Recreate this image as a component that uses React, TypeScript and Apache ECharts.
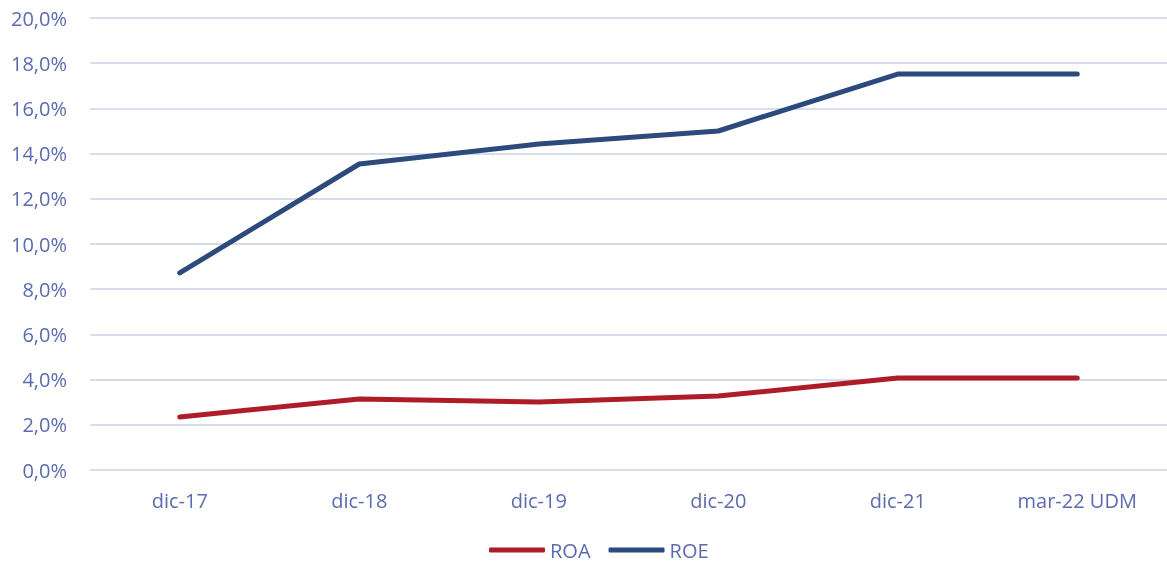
import React, { useEffect, useRef } from "react";
import * as echarts from "echarts";

const categories = ["dic-17", "dic-18", "dic-19", "dic-20", "dic-21", "mar-22 UDM"];
const roa = [2.35, 3.14, 3.01, 3.27, 4.07, 4.07];
const roe = [8.72, 13.54, 14.42, 15.0, 17.52, 17.52];

const textColor = "#5B6BB0";
const gridColor = "#D9DCEC";
const font = "'Open Sans', 'Noto Sans', sans-serif";

export default function App() {
  const ref = useRef<HTMLDivElement>(null);

  useEffect(() => {
    if (!ref.current) return;
    const chart = echarts.init(ref.current, undefined, { renderer: "svg" });
    chart.setOption({
      animation: false,
      textStyle: { fontFamily: font },
      grid: { left: 90, right: -3, top: 18, bottom: 94, containLabel: false },
      legend: {
        bottom: 4,
        padding: 0,
        left: 489,
        itemWidth: 56,
        itemHeight: 5,
        itemGap: 18,
        itemStyle: { borderWidth: 0 },
        textStyle: { color: textColor, fontSize: 20, fontFamily: font, padding: 0 },
        data: [
          { name: "ROA", icon: "roundRect" },
          { name: "ROE", icon: "roundRect" },
        ],
      },
      xAxis: {
        type: "category",
        data: categories,
        boundaryGap: true,
        axisLine: { show: false },
        axisTick: { show: false },
        axisLabel: { color: textColor, fontSize: 20, margin: 20, fontFamily: font },
      },
      yAxis: {
        type: "value",
        min: 0,
        max: 20,
        interval: 2,
        axisLine: { show: false },
        axisTick: { show: false },
        splitLine: { lineStyle: { color: gridColor, width: 2 } },
        axisLabel: {
          color: textColor,
          fontSize: 20,
          margin: 23,
          fontFamily: font,
          formatter: (v: number) => v.toFixed(1).replace(".", ",") + "%",
        },
      },
      series: [
        {
          name: "ROA",
          type: "line",
          data: roa,
          showSymbol: false,
          symbol: "none",
          color: "#AE1C28",
          lineStyle: { width: 5, color: "#AE1C28", cap: "round", join: "round" },
        },
        {
          name: "ROE",
          type: "line",
          data: roe,
          showSymbol: false,
          symbol: "none",
          color: "#2C4A7C",
          lineStyle: { width: 5, color: "#2C4A7C", cap: "round", join: "round" },
        },
      ],
    });
    return () => chart.dispose();
  }, []);

  return (
    <div
      ref={ref}
      style={{ position: "fixed", left: 0, top: 0, width: 1167, height: 564 }}
    />
  );
}
